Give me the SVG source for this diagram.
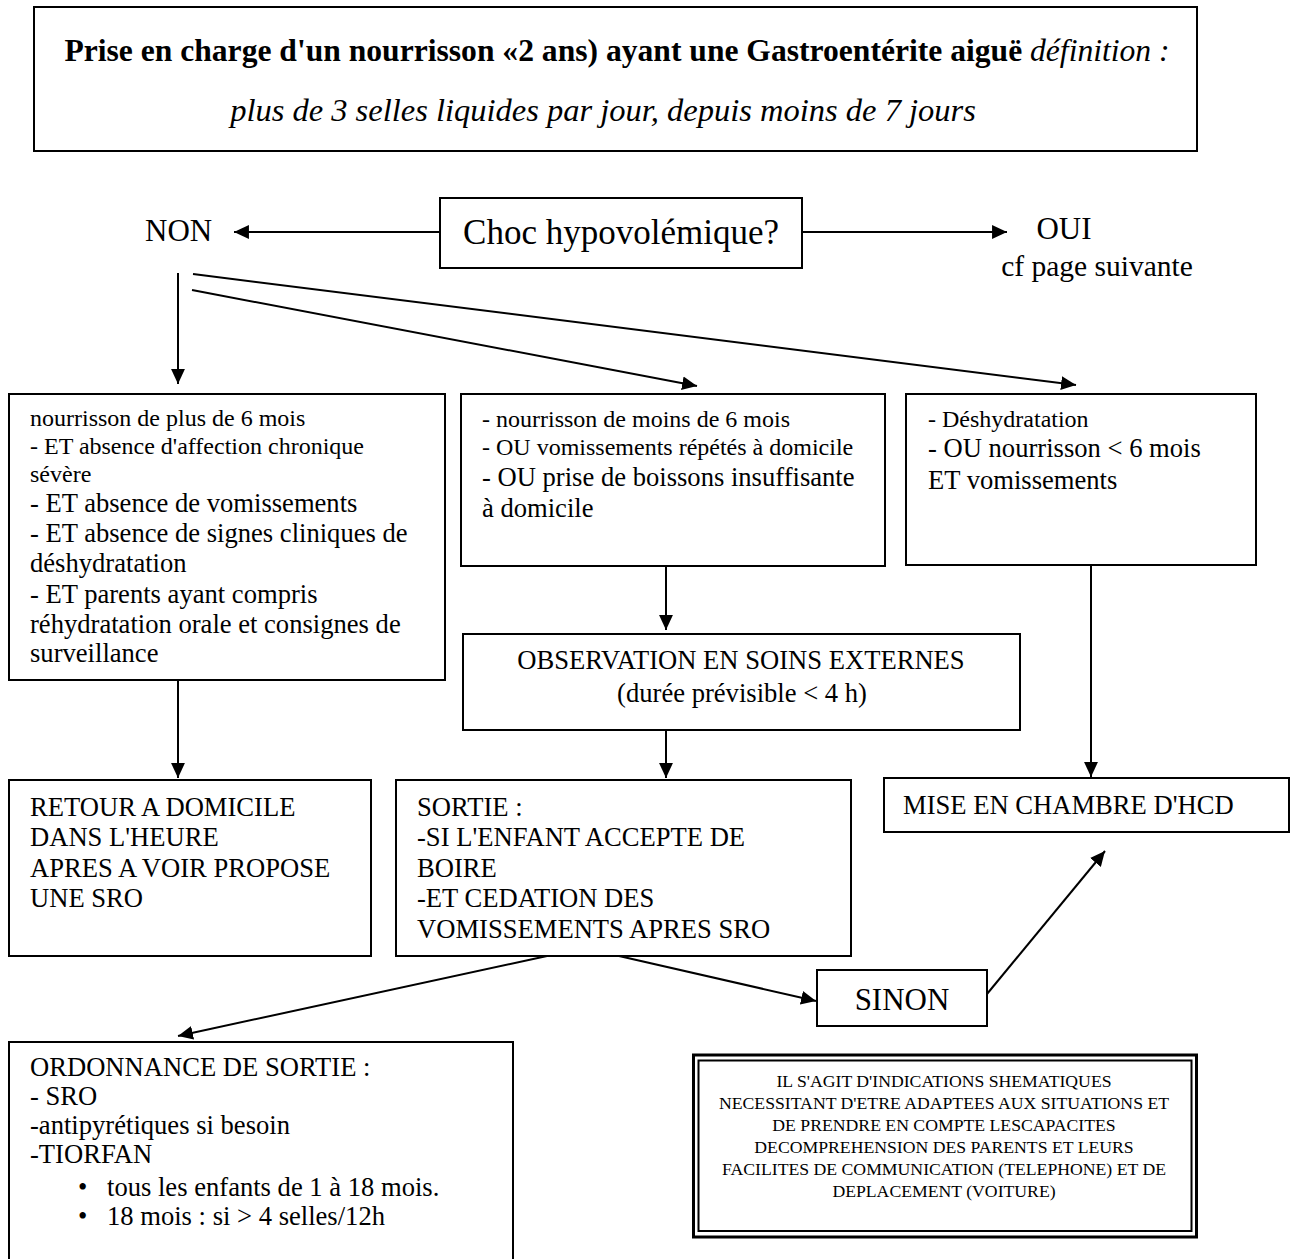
<svg xmlns="http://www.w3.org/2000/svg" width="1311" height="1259" viewBox="0 0 1311 1259" font-family="'Liberation Serif', 'Times New Roman', serif">
<style>
text{font-family:"Liberation Serif","Times New Roman",serif;fill:#000}
.box{fill:#fff;stroke:#000;stroke-width:2}
.ln{stroke:#000;stroke-width:2;fill:none}
.b{font-family:"Liberation Serif","Times New Roman",serif;font-size:26.6px}
.s{font-family:"Liberation Serif","Times New Roman",serif;font-size:24px}
.big{font-family:"Liberation Serif","Times New Roman",serif;font-size:35px}
.mid{font-family:"Liberation Serif","Times New Roman",serif;font-size:31px}
.note{font-family:"Liberation Serif","Times New Roman",serif;font-size:17.7px}
</style>
<defs>
<marker id="ah" markerUnits="userSpaceOnUse" markerWidth="16" markerHeight="16" viewBox="0 0 15 14" refX="14" refY="7" orient="auto">
<path d="M0,0.5 L14,7 L0,13.5 Z" fill="#000"/>
</marker>
</defs>
<rect width="1311" height="1259" fill="#fff"/>
<g id="connectors">
<line class="ln" x1="440" y1="232" x2="234" y2="232" marker-end="url(#ah)"/>
<line class="ln" x1="802" y1="232" x2="1007" y2="232" marker-end="url(#ah)"/>
<line class="ln" x1="178" y1="273" x2="178" y2="384" marker-end="url(#ah)"/>
<line class="ln" x1="192" y1="290" x2="697" y2="386" marker-end="url(#ah)"/>
<line class="ln" x1="193" y1="274" x2="1076" y2="385" marker-end="url(#ah)"/>
<line class="ln" x1="666" y1="566" x2="666" y2="630" marker-end="url(#ah)"/>
<line class="ln" x1="666" y1="730" x2="666" y2="778" marker-end="url(#ah)"/>
<line class="ln" x1="178" y1="680" x2="178" y2="778" marker-end="url(#ah)"/>
<line class="ln" x1="1091" y1="565" x2="1091" y2="777" marker-end="url(#ah)"/>
<line class="ln" x1="547" y1="956" x2="178" y2="1036" marker-end="url(#ah)"/>
<line class="ln" x1="619" y1="956" x2="816" y2="1001" marker-end="url(#ah)"/>
<line class="ln" x1="987" y1="994" x2="1105" y2="851" marker-end="url(#ah)"/>
</g>
<g id="title">
<rect class="box" x="34" y="7" width="1163" height="144"/>
<text x="617" y="61" font-size="31.6" text-anchor="middle"><tspan font-weight="bold">Prise en charge d'un nourrisson «2 ans) ayant une Gastroentérite aiguë</tspan><tspan font-style="italic"> définition :</tspan></text>
<text x="603" y="121" font-size="32.5" font-style="italic" text-anchor="middle">plus de 3 selles liquides par jour, depuis moins de 7 jours</text>
</g>
<g id="choc">
<rect class="box" x="440" y="198" width="362" height="70"/>
<text class="big" x="621" y="244" text-anchor="middle">Choc hypovolémique?</text>
</g>
<g id="non">
<text class="mid" x="145" y="241">NON</text>
</g>
<g id="oui">
<text class="mid" x="1064" y="239" text-anchor="middle">OUI</text>
<text x="1097" y="276" font-size="29.5" text-anchor="middle">cf page suivante</text>
</g>
<g id="boxA">
<rect class="box" x="9" y="394" width="436" height="286"/>
<text class="s" x="30" y="426">nourrisson de plus de 6 mois</text>
<text class="s" x="30" y="454">- ET absence d'affection chronique</text>
<text class="s" x="30" y="482">sévère</text>
<text class="b" x="30" y="512">- ET absence de vomissements</text>
<text class="b" x="30" y="542">- ET absence de signes cliniques de</text>
<text class="b" x="30" y="572">déshydratation</text>
<text class="b" x="30" y="603">- ET parents ayant compris</text>
<text class="b" x="30" y="633">réhydratation orale et consignes de</text>
<text class="b" x="30" y="662">surveillance</text>
</g>
<g id="boxB">
<rect class="box" x="461" y="394" width="424" height="172"/>
<text class="s" x="482" y="427">- nourrisson de moins de 6 mois</text>
<text class="s" x="482" y="455">- OU vomissements répétés à domicile</text>
<text class="b" x="482" y="486">- OU prise de boissons insuffisante</text>
<text class="b" x="482" y="517">à domicile</text>
</g>
<g id="boxC">
<rect class="box" x="906" y="394" width="350" height="171"/>
<text class="s" x="928" y="427">- Déshydratation</text>
<text class="b" x="928" y="457">- OU nourrisson &lt; 6 mois</text>
<text class="b" x="928" y="489">ET vomissements</text>
</g>
<g id="observation">
<rect class="box" x="463" y="634" width="557" height="96"/>
<text class="b" x="741" y="669" text-anchor="middle">OBSERVATION EN SOINS EXTERNES</text>
<text class="b" x="742" y="702" text-anchor="middle">(durée prévisible &lt; 4 h)</text>
</g>
<g id="retour">
<rect class="box" x="9" y="780" width="362" height="176"/>
<text class="b" x="30" y="816">RETOUR A DOMICILE</text>
<text class="b" x="30" y="846">DANS L'HEURE</text>
<text class="b" x="30" y="877">APRES A VOIR PROPOSE</text>
<text class="b" x="30" y="907">UNE SRO</text>
</g>
<g id="sortie">
<rect class="box" x="396" y="780" width="455" height="176"/>
<text class="b" x="417" y="816">SORTIE :</text>
<text class="b" x="417" y="846">-SI L'ENFANT ACCEPTE DE</text>
<text class="b" x="417" y="877">BOIRE</text>
<text class="b" x="417" y="907">-ET CEDATION DES</text>
<text class="b" x="417" y="938">VOMISSEMENTS APRES SRO</text>
</g>
<g id="hcd">
<rect class="box" x="884" y="778" width="405" height="54"/>
<text class="b" x="903" y="814">MISE EN CHAMBRE D'HCD</text>
</g>
<g id="sinon">
<rect class="box" x="817" y="970" width="170" height="56"/>
<text class="mid" x="902" y="1010" text-anchor="middle">SINON</text>
</g>
<g id="ordonnance">
<rect class="box" x="9" y="1042" width="504" height="240"/>
<text class="b" x="30" y="1076">ORDONNANCE DE SORTIE :</text>
<text class="b" x="30" y="1105">- SRO</text>
<text class="b" x="30" y="1134">-antipyrétiques si besoin</text>
<text class="b" x="30" y="1163">-TIORFAN</text>
<text class="b" x="78" y="1196">•</text>
<text class="b" x="107" y="1196">tous les enfants de 1 à 18 mois.</text>
<text class="b" x="78" y="1225">•</text>
<text class="b" x="107" y="1225">18 mois : si &gt; 4 selles/12h</text>
</g>
<g id="note">
<rect x="693.5" y="1055" width="503" height="182" fill="#fff" stroke="#000" stroke-width="3"/>
<rect x="698.5" y="1060.5" width="493" height="170.5" fill="none" stroke="#000" stroke-width="2"/>
<text class="note" text-anchor="middle" x="944"><tspan x="944" y="1087">IL S'AGIT D'INDICATIONS SHEMATIQUES</tspan><tspan x="944" y="1109">NECESSITANT D'ETRE ADAPTEES AUX SITUATIONS ET</tspan><tspan x="944" y="1131">DE PRENDRE EN COMPTE LESCAPACITES</tspan><tspan x="944" y="1153">DECOMPREHENSION DES PARENTS ET LEURS</tspan><tspan x="944" y="1175">FACILITES DE COMMUNICATION (TELEPHONE) ET DE</tspan><tspan x="944" y="1197">DEPLACEMENT (VOITURE)</tspan></text>
</g>
</svg>
